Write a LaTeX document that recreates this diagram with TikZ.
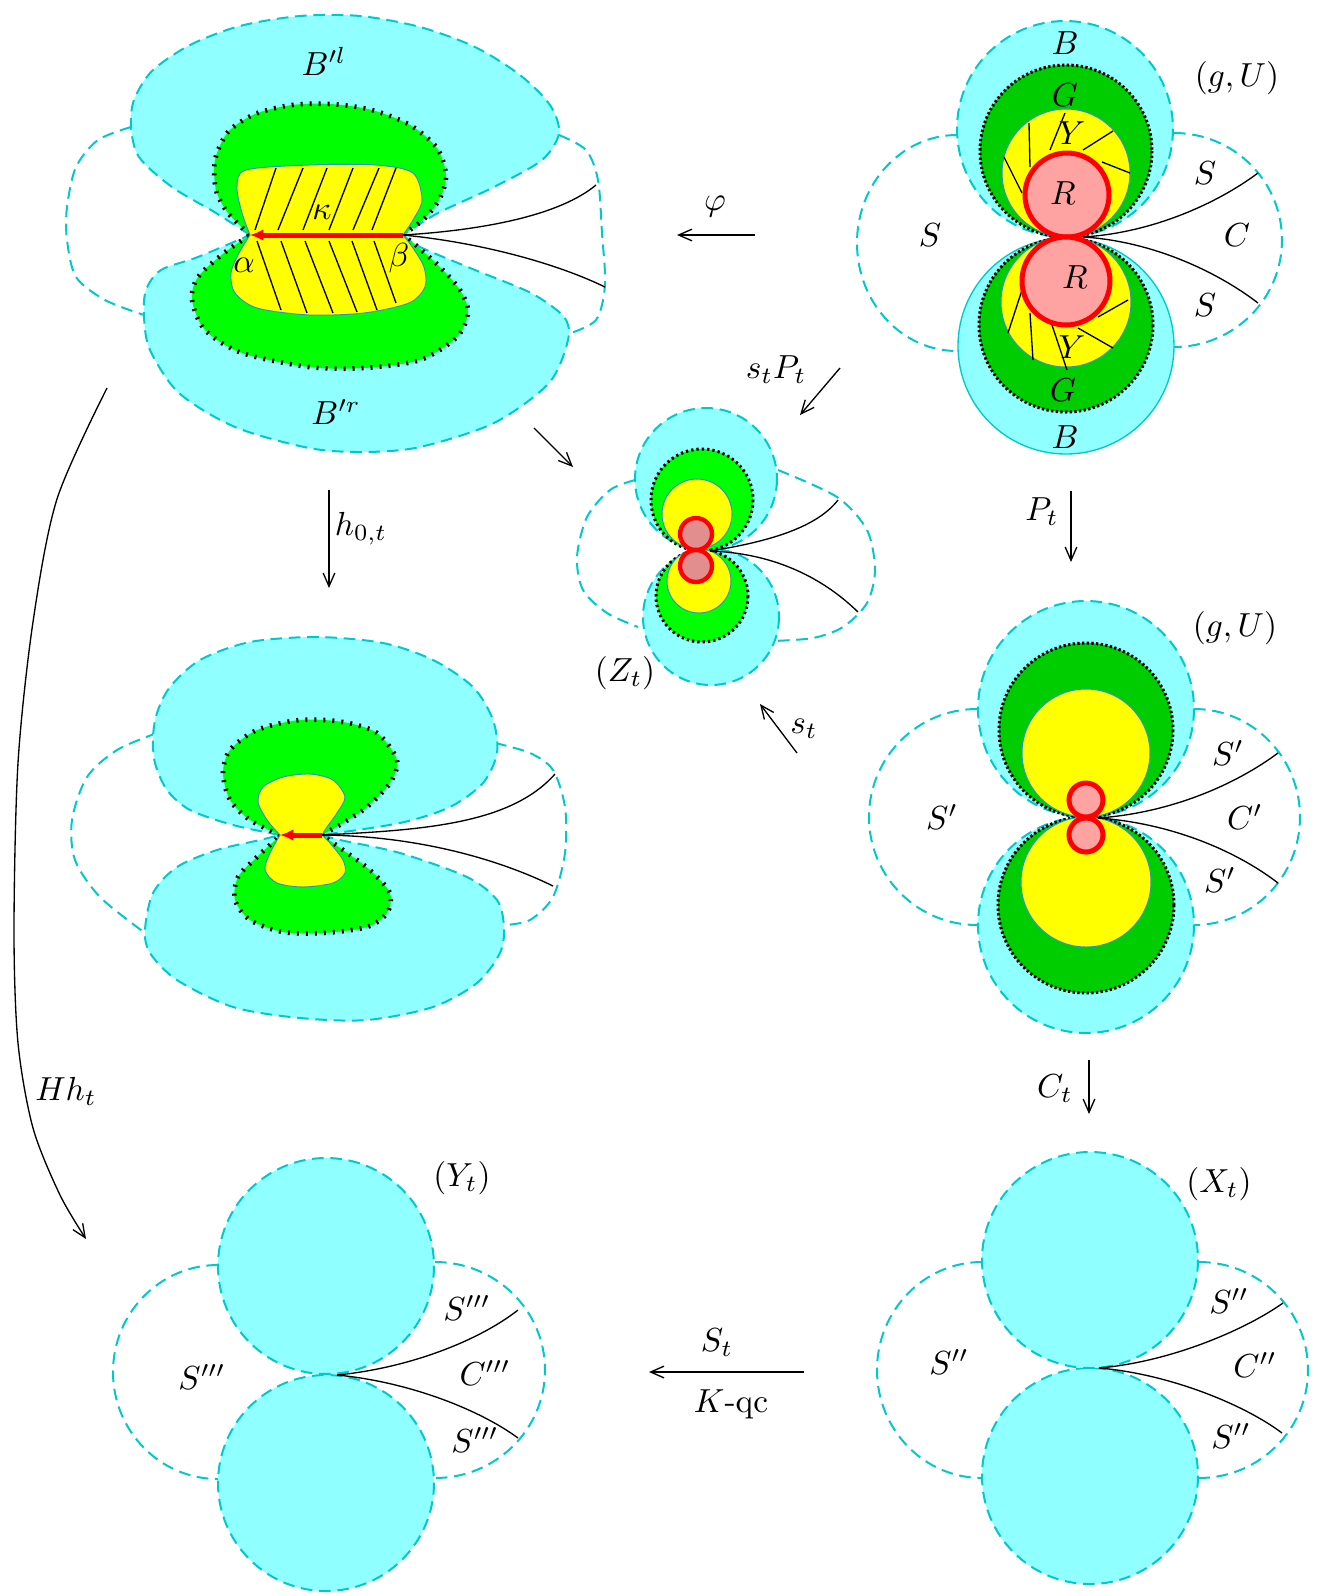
\documentclass[tikz,border=0pt]{standalone}
\usepackage{amsmath}
\usepackage{tikz}
\usetikzlibrary{arrows.meta}
\definecolor{mycyan}{RGB}{0,200,205}
\definecolor{hdrcyan}{RGB}{143,255,255}
\definecolor{mygreen}{RGB}{0,255,0}
\definecolor{mydarkgreen}{RGB}{0,205,0}
\definecolor{myyellow}{RGB}{255,255,0}
\definecolor{myred}{RGB}{255,0,0}
\definecolor{mypink}{RGB}{255,162,162}
\definecolor{mydarkpink}{RGB}{226,142,142}
\definecolor{myrim}{RGB}{40,150,200}
\tikzset{
  cyanblob/.style={fill=hdrcyan, draw=mycyan, line width=0.6pt,
    dash pattern=on 3.5pt off 2pt},
  cyandisc/.style={fill=hdrcyan, draw=mycyan, line width=0.4pt},
  cyanloop/.style={draw=mycyan, line width=0.6pt, dash pattern=on 3.5pt off 2pt},
  greenlobe/.style={fill=mygreen, draw=black, line width=1.4pt,
    dash pattern=on 0.6pt off 2.1pt},
  greendisc/.style={fill=mydarkgreen, draw=black, line width=0.9pt,
    dash pattern=on 0.7pt off 0.7pt},
  greensmall/.style={fill=mygreen, draw=black, line width=0.9pt,
    dash pattern=on 0.7pt off 0.9pt},
  yellowpart/.style={fill=myyellow, draw=myrim, line width=0.3pt},
  reddisc/.style={fill=mypink, draw=myred, line width=1.5pt},
  reddark/.style={fill=mydarkpink, draw=myred, line width=1.3pt},
  hatch/.style={black, line width=0.4pt},
  blackcurve/.style={black, line width=0.4pt},
  maparrow/.style={-{Straight Barb[length=4pt,width=3.5pt]}, line width=0.4pt},
  redarrow/.style={-{Latex[length=4pt,width=3.5pt]}, myred, line width=1.5pt},
  lbl/.style={inner sep=0pt}
}
\begin{document}
\begin{tikzpicture}[x=0.3pt, y=-0.3pt]
  \useasboundingbox (0,0) rectangle (1319,1596);

  % top left: B'l and B'r
  \coordinate (al1) at (250,235);
  \coordinate (be1) at (403,235);
  \draw[cyanloop] plot[smooth] coordinates {(131,127) (98,140) (76,167) (67,207) (67,240) (76,277) (105,300) (144,315)};
  \draw[cyanloop] plot[smooth] coordinates {(559,135) (586,150) (598,180) (602,233) (605,285) (596,320) (568,334)};
  \path[cyanblob] plot[smooth] coordinates {(al1) (216,213) (172,187) (139,157) (131,127) (134,100) (152,71) (190,45) (240,26) (300,16) (360,16) (420,27) (475,47) (520,75) (550,105) (559,133) (542,160) (494,187) (438,213) (be1)} -- cycle;
  \path[cyanblob] plot[smooth] coordinates {(be1) (420,247) (475,270) (531,293) (564,317) (568,340) (549,383) (494,423) (420,447) (364,452) (309,448) (235,427) (179,393) (150,350) (144,317) (146,290) (161,270) (198,257) (al1)} -- cycle;
  \path[greenlobe] plot[smooth] coordinates {(al1) (228,213) (216,190) (215,160) (228,132) (255,114) (292,105) (331,104) (372,110) (410,125) (437,148) (446,175) (440,198) (425,218) (be1)}
    -- plot[smooth] coordinates {(be1) (418,247) (440,267) (460,290) (468,312) (457,337) (420,360) (364,368) (309,367) (242,353) (205,330) (192,300) (198,277) (224,253) (al1)} -- cycle;
  \path[yellowpart] plot[smooth] coordinates {(al1) (242,213) (237,187) (246,170) (309,165) (376,165) (413,173) (422,200) (413,220) (be1)}
    -- plot[smooth] coordinates {(be1) (413,248) (424,267) (425,287) (409,303) (364,313) (309,315) (257,308) (235,293) (231,273) (239,253) (al1)} -- cycle;
  \foreach \xa/\xb in {276/255, 303/278, 327/303, 353/329, 379/353, 396/372}
    \draw[hatch] (\xa,168) -- (\xb,230);
  \foreach \xa/\xb/\yb in {257/281/310, 281/307/313, 305/333/313, 329/357/312, 352/377/310, 374/396/303}
    \draw[hatch] (\xa,241) -- (\xb,\yb);
  \draw[redarrow] (be1) -- (al1);
  \coordinate (c1a) at (596,185);
  \coordinate (c1b) at (605,287);
  \draw[blackcurve] (be1) .. controls (485,230) and (560,215) .. (c1a);
  \draw[blackcurve] (be1) .. controls (485,243) and (560,265) .. (c1b);
  \node[lbl] (bl) at (324,61) {$B'^l$};
  \node[lbl] (br) at (336,412) {$B'^r$};
  \node[lbl] (kappa) at (322,212) {$\kappa$};
  \node[lbl] (alpha) at (244,265) {$\alpha$};
  \node[lbl] (beta) at (399,258) {$\beta$};

  % top right: (g,U)
  \coordinate (j2) at (1083,237);
  \draw[cyanloop] (957,135) arc[start angle=270, end angle=90, x radius=100, y radius=108];
  \draw[cyanloop] (1174,133) arc[start angle=-90, end angle=90, x radius=108, y radius=107];
  \path[cyandisc] (1066,346) circle (108);
  \path[cyanblob] (1065,129) circle (108);
  \path[greendisc] (1066,151) circle (86);
  \path[greendisc] (1066,325) circle (87);
  \path[yellowpart] (1066,173) circle (64);
  \path[yellowpart] (1066,302) circle (65);
  \foreach \p/\q in {{1065,113}/{1050,150}, {1029,123}/{1030,167}, {1004,157}/{1022,193}, {1113,131}/{1083,150}, {1102,162}/{1130,173},
                     {1022,290}/{1008,333}, {1030,313}/{1033,360}, {1052,325}/{1067,370}, {1078,328}/{1113,348}, {1098,317}/{1128,300}}
    \draw[hatch] (\p) -- (\q);
  \path[reddisc] (1067,195) circle (42);
  \path[reddisc] (1066,281) circle (44);
  \coordinate (c2a) at (1258,173);
  \coordinate (c2b) at (1258,303);
  \draw[blackcurve] (j2) .. controls (1150,233) and (1215,205) .. (c2a);
  \draw[blackcurve] (j2) .. controls (1150,241) and (1215,270) .. (c2b);
  \node[lbl] (b2t) at (1065,43) {$B$};
  \node[lbl] (g2t) at (1065,95) {$G$};
  \node[lbl] (y2t) at (1072,133) {$Y$};
  \node[lbl] (r2t) at (1063,193) {$R$};
  \node[lbl] (r2b) at (1075,277) {$R$};
  \node[lbl] (y2b) at (1072,347) {$Y$};
  \node[lbl] (g2b) at (1063,390) {$G$};
  \node[lbl] (b2b) at (1065,437) {$B$};
  \node[lbl] (gu1) at (1237,78) {$(g,U)$};
  \node[lbl] (s2l) at (930,235) {$S$};
  \node[lbl] (s2t) at (1205,173) {$S$};
  \node[lbl] (c2) at (1237,235) {$C$};
  \node[lbl] (s2b) at (1205,305) {$S$};

  % middle: (Z_t)
  \coordinate (j3) at (710,551);
  \draw[cyanloop] plot[smooth] coordinates {(635,480) (610,490) (587,517) (577,557) (583,590) (607,613) (638,627)};
  \draw[cyanloop] plot[smooth] coordinates {(778,470) (837,497) (867,530) (875,570) (867,603) (843,627) (813,638) (773,641)};
  \path[cyanblob] (711,617) circle (68);
  \path[cyanblob] (706,479) circle (71);
  \path[greensmall] (702,500) circle (51);
  \path[greensmall] (702,596) circle (46);
  \path[yellowpart] (697,514) circle (35);
  \path[yellowpart] (699,581) circle (32);
  \path[reddark] (696,534) circle (16);
  \path[reddark] (696,566) circle (16);
  \coordinate (c3a) at (838,500);
  \coordinate (c3b) at (858,612);
  \draw[blackcurve] (j3) .. controls (760,543) and (815,530) .. (c3a);
  \draw[blackcurve] (j3) .. controls (770,553) and (820,575) .. (c3b);
  \node[lbl] (zt) at (625,673) {$(Z_t)$};

  % middle left
  \coordinate (al4) at (280,835);
  \coordinate (be4) at (322,835);
  \draw[cyanloop] plot[smooth] coordinates {(157,733) (117,750) (87,777) (72,820) (75,860) (100,897) (145,933)};
  \draw[cyanloop] plot[smooth] coordinates {(495,743) (530,753) (553,770) (565,807) (565,853) (553,897) (530,920) (505,925)};
  \path[cyanblob] plot[smooth] coordinates {(al4) (233,825) (190,810) (167,790) (155,763) (153,737) (157,713) (170,687) (200,660) (250,642) (317,637) (383,643) (433,660) (473,687) (493,720) (497,753) (483,783) (450,807) (400,823) (be4)} -- cycle;
  \path[cyanblob] plot[smooth] coordinates {(be4) (340,840) (400,853) (467,877) (497,900) (504,927) (500,953) (477,983) (433,1007) (367,1020) (300,1018) (233,1007) (177,980) (150,953) (145,930) (153,893) (177,867) (217,850) (260,840) (al4)} -- cycle;
  \path[greenlobe] plot[smooth] coordinates {(al4) (250,820) (230,800) (223,773) (230,750) (257,730) (300,720) (343,722) (377,733) (397,760) (390,783) (367,807) (343,823) (be4)}
    -- plot[smooth] coordinates {(be4) (343,850) (370,870) (390,893) (387,913) (367,927) (323,933) (283,932) (250,920) (235,900) (238,877) (257,857) (272,843) (al4)} -- cycle;
  \path[yellowpart] plot[smooth] coordinates {(al4) (267,820) (258,802) (263,787) (283,777) (310,774) (333,780) (345,797) (337,813) (327,827) (be4)}
    -- plot[smooth] coordinates {(be4) (330,843) (343,860) (345,873) (333,883) (303,887) (277,883) (265,870) (270,853) (al4)} -- cycle;
  \draw[redarrow] (be4) -- (al4);
  \coordinate (c4a) at (555,774);
  \coordinate (c4b) at (553,886);
  \draw[blackcurve] (be4) .. controls (420,830) and (510,825) .. (c4a);
  \draw[blackcurve] (be4) .. controls (420,836) and (500,860) .. (c4b);

  % middle right: (g,U)
  \coordinate (j5) at (1098,818);
  \draw[cyanloop] (977,709) arc[start angle=270, end angle=90, x radius=108, y radius=108];
  \draw[cyanloop] (1194,709) arc[start angle=-90, end angle=90, x radius=106, y radius=108];
  \path[cyanblob] (1086,925) circle (108);
  \path[cyanblob] (1086,709) circle (108);
  \path[greendisc] (1086,730) circle (87);
  \path[greendisc] (1086,905) circle (88);
  \path[yellowpart] (1086,753) circle (64);
  \path[yellowpart] (1086,882) circle (65);
  \path[reddisc] (1086,800) circle (17);
  \path[reddisc] (1086,835) circle (17);
  \coordinate (c5a) at (1278,753);
  \coordinate (c5b) at (1278,883);
  \draw[blackcurve] (j5) .. controls (1170,813) and (1235,785) .. (c5a);
  \draw[blackcurve] (j5) .. controls (1170,823) and (1235,850) .. (c5b);
  \node[lbl] (gu2) at (1235,628) {$(g,U)$};
  \node[lbl] (s5l) at (942,817) {$S'$};
  \node[lbl] (s5t) at (1228,753) {$S'$};
  \node[lbl] (c5) at (1245,817) {$C'$};
  \node[lbl] (s5b) at (1220,880) {$S'$};

  % bottom left: (Y_t)
  \coordinate (j6) at (337,1375);
  \draw[cyanloop] (218,1265) arc[start angle=270, end angle=90, x radius=105, y radius=107];
  \draw[cyanloop] (435,1262) arc[start angle=-90, end angle=90, x radius=110, y radius=108];
  \path[cyanblob] (326,1483) circle (108);
  \path[cyanblob] (326,1266) circle (108);
  \coordinate (c6a) at (518,1310);
  \coordinate (c6b) at (518,1438);
  \draw[blackcurve] (j6) .. controls (410,1368) and (480,1340) .. (c6a);
  \draw[blackcurve] (j6) .. controls (410,1382) and (480,1410) .. (c6b);
  \node[lbl] (yt) at (462,1178) {$(Y_t)$};
  \node[lbl] (s6t) at (467,1308) {$S'''$};
  \node[lbl] (c6) at (485,1373) {$C'''$};
  \node[lbl] (s6b) at (475,1440) {$S'''$};
  \node[lbl] (s6l) at (202,1377) {$S'''$};

  % bottom right: (X_t)
  \coordinate (j7) at (1099,1368);
  \draw[cyanloop] (982,1262) arc[start angle=270, end angle=90, x radius=105, y radius=108];
  \draw[cyanloop] (1199,1262) arc[start angle=-90, end angle=90, x radius=109, y radius=108];
  \path[cyanblob] (1090,1476) circle (108);
  \path[cyanblob] (1090,1260) circle (108);
  \coordinate (c7a) at (1283,1303);
  \coordinate (c7b) at (1282,1433);
  \draw[blackcurve] (j7) .. controls (1170,1362) and (1245,1330) .. (c7a);
  \draw[blackcurve] (j7) .. controls (1170,1374) and (1245,1405) .. (c7b);
  \node[lbl] (xt) at (1219,1184) {$(X_t)$};
  \node[lbl] (s7t) at (1229,1301) {$S''$};
  \node[lbl] (c7) at (1255,1365) {$C''$};
  \node[lbl] (s7b) at (1231,1436) {$S''$};
  \node[lbl] (s7l) at (949,1362) {$S''$};

  % maps
  \coordinate (phiA) at (755,235);
  \coordinate (phiB) at (677,235);
  \draw[maparrow] (phiA) -- (phiB);
  \node[lbl] (phi) at (715,207) {$\varphi$};

  \coordinate (stpA) at (840,368);
  \coordinate (stpB) at (800,415);
  \draw[maparrow] (stpA) -- (stpB);
  \node[lbl] (stp) at (776,370) {$s_tP_t$};

  \coordinate (bzA) at (534,428);
  \coordinate (bzB) at (573,467);
  \draw[maparrow] (bzA) -- (bzB);

  \coordinate (hA) at (329,490);
  \coordinate (hB) at (329,588);
  \draw[maparrow] (hA) -- (hB);
  \node[lbl] (h0t) at (361,529) {$h_{0,t}$};

  \coordinate (ptA) at (1071,491);
  \coordinate (ptB) at (1071,562);
  \draw[maparrow] (ptA) -- (ptB);
  \node[lbl] (pt) at (1042,512) {$P_t$};

  \coordinate (stA) at (797,753);
  \coordinate (stB) at (760,704);
  \draw[maparrow] (stA) -- (stB);
  \node[lbl] (st) at (804,729) {$s_t$};

  \coordinate (ctA) at (1089,1060);
  \coordinate (ctB) at (1089,1114);
  \draw[maparrow] (ctA) -- (ctB);
  \node[lbl] (ct) at (1055,1089) {$C_t$};

  \coordinate (sqA) at (804,1372);
  \coordinate (sqB) at (649,1372);
  \draw[maparrow] (sqA) -- (sqB);
  \node[lbl] (sqt) at (717,1343) {$S_t$};
  \node[lbl] (kqc) at (731,1404) {$K$-qc};

  \coordinate (hhA) at (107,388);
  \coordinate (hhB) at (86,1239);
  \draw[maparrow] plot[smooth] coordinates {(hhA) (57,499) (33,622) (18,763) (14,931) (18,1043) (33,1128) (60,1195) (hhB)};
  \node[lbl] (hht) at (66,1091) {$Hh_t$};
\end{tikzpicture}
\end{document}
